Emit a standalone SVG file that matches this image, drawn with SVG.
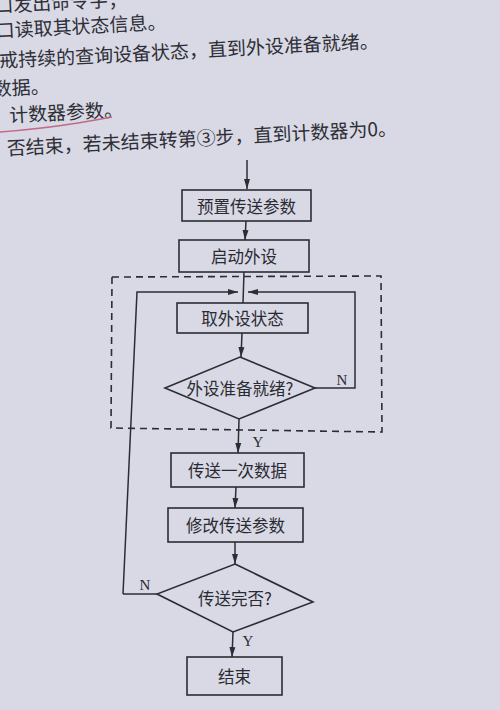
<svg xmlns="http://www.w3.org/2000/svg" width="500" height="710" viewBox="0 0 500 710">
<defs>
<marker id="ah" markerUnits="userSpaceOnUse" markerWidth="12" markerHeight="8" refX="10" refY="4" orient="auto">
<path d="M0,1 L10,4 L0,7 Z" fill="#2c2c33"/>
</marker>
</defs>
<style>
.bg{fill:#d8d9e5}
.para{font-family:"Noto Sans CJK SC","Noto Sans CJK JP",sans-serif;font-size:19px;fill:#2e2e36;dominant-baseline:central}
.box{fill:none;stroke:#2c2c33;stroke-width:1.6}
.lbl{font-family:"Noto Sans CJK SC","Noto Sans CJK JP",sans-serif;font-size:16.5px;fill:#2a2a31;text-anchor:middle;dominant-baseline:central}
.yn{font-family:"Liberation Serif",serif;font-size:15px;fill:#2a2a31;text-anchor:middle;dominant-baseline:central}
.ln{fill:none;stroke:#2c2c33;stroke-width:1.5}
.arr{fill:none;stroke:#2c2c33;stroke-width:1.5;marker-end:url(#ah)}
.dash{fill:none;stroke:#2c2c33;stroke-width:1.6;stroke-dasharray:7 5}
</style>
<rect class="bg" x="0" y="0" width="500" height="710"/>

<g id="paragraph" transform="rotate(-3 0 0)">
<text class="para" x="-6" y="4">口发出命令字；</text>
<text class="para" x="-6" y="29">口读取其状态信息。</text>
<text class="para" x="-4" y="59">戒持续的查询设备状态，直到外设准备就绪。</text>
<text class="para" x="-12" y="87">数据。</text>
<text class="para" x="3" y="114">计数器参数。</text>
<text class="para" x="-1" y="147">否结束，若未结束转第③步，直到计数器为0。</text>
</g>
<path id="underline" d="M0,132 Q40,129 78,123 Q96,120 112,117" fill="none" stroke="#c26a86" stroke-width="1.6"/>

<g id="connectors">
<line class="arr" x1="247" y1="160" x2="247" y2="189"/>
<line class="arr" x1="246" y1="221" x2="245" y2="240"/>
<line class="ln" x1="244" y1="272" x2="243" y2="303"/>
<polyline class="arr" points="123,594 137,292 238,292"/>
<polyline class="arr" points="315,388 355,388 355,292 248,292"/>
<line class="arr" x1="242" y1="333" x2="241" y2="357"/>
<line class="arr" x1="239" y1="419" x2="238" y2="453"/>
<line class="arr" x1="236" y1="487" x2="235" y2="508"/>
<line class="arr" x1="235" y1="542" x2="235" y2="564"/>
<line class="ln" x1="157" y1="594" x2="123" y2="594"/>
<line class="arr" x1="233" y1="632" x2="232" y2="657"/>
<text class="yn" x="342" y="380">N</text>
<text class="yn" x="258" y="442">Y</text>
<text class="yn" x="145" y="585">N</text>
<text class="yn" x="248" y="641">Y</text>
</g>

<polygon id="dashed-region" class="dash" points="112,277 381,276 382,432 111,428"/>

<g id="n1"><rect class="box" x="182" y="190" width="129" height="31"/><text class="lbl" x="246.5" y="205.5">预置传送参数</text></g>
<g id="n2"><rect class="box" x="179" y="240" width="130" height="32"/><text class="lbl" x="244" y="256">启动外设</text></g>
<g id="n3"><rect class="box" x="177" y="303" width="131" height="30"/><text class="lbl" x="242.5" y="318">取外设状态</text></g>
<g id="n4"><polygon class="box" points="240,357 315,388 239,419 165,388"/><text class="lbl" x="240" y="388">外设准备就绪?</text></g>
<g id="n5"><rect class="box" x="171" y="453" width="133" height="34"/><text class="lbl" x="237.5" y="470">传送一次数据</text></g>
<g id="n6"><rect class="box" x="168" y="508" width="135" height="34"/><text class="lbl" x="235.5" y="525">修改传送参数</text></g>
<g id="n7"><polygon class="box" points="235,564 313,602 233,632 157,594"/><text class="lbl" x="235" y="598">传送完否?</text></g>
<g id="n8"><rect class="box" x="187" y="657" width="95" height="38"/><text class="lbl" x="234.5" y="676">结束</text></g>
</svg>
